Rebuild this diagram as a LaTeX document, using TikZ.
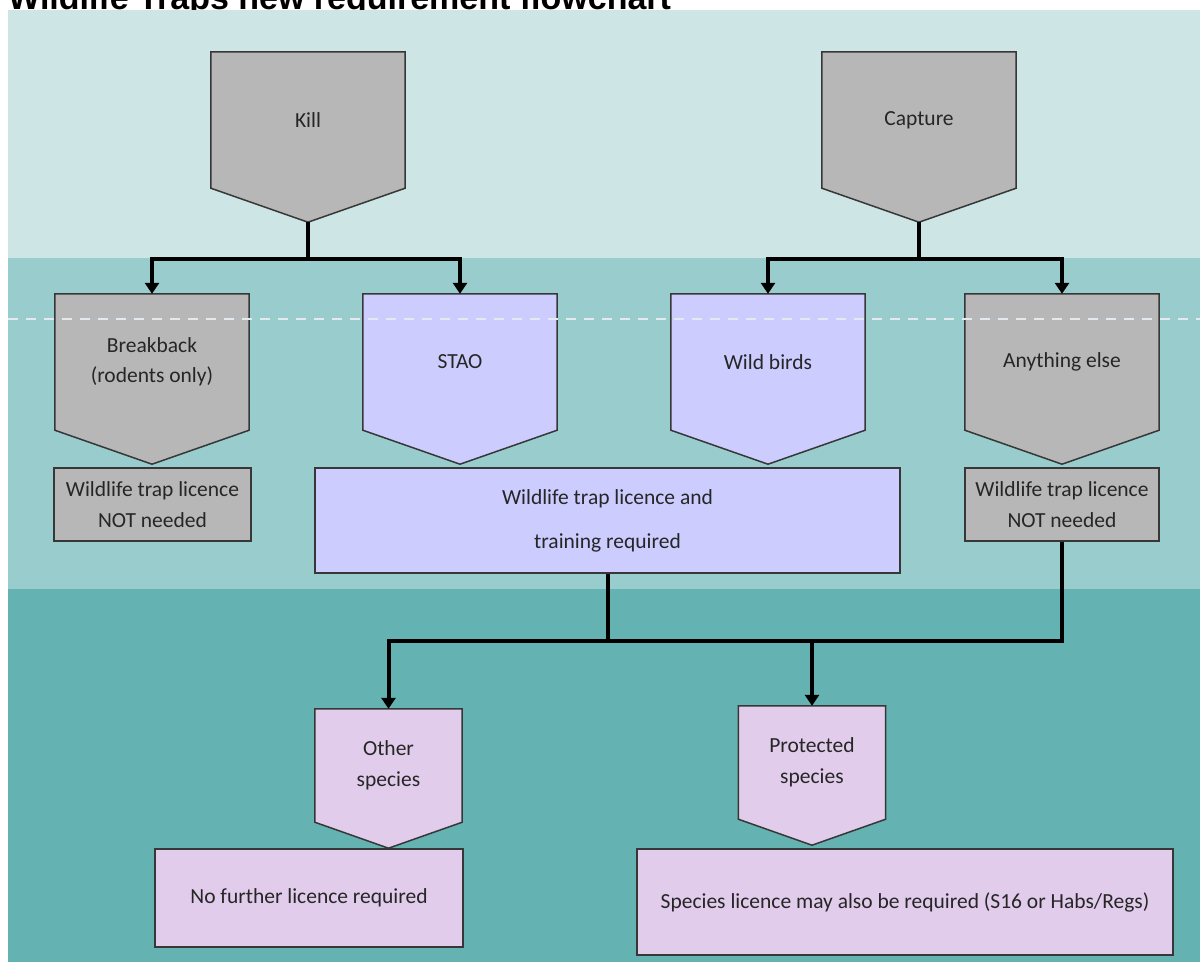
\documentclass[tikz,border=0pt]{standalone}
\usepackage{fontspec}
\setmainfont{Carlito}
\newfontfamily\titlefont{Liberation Sans}
\usetikzlibrary{arrows.meta, backgrounds, calc}

\definecolor{bandtop}{RGB}{205,229,229}
\definecolor{bandmid}{RGB}{153,205,205}
\definecolor{bandlow}{RGB}{101,178,178}
\definecolor{greyfill}{RGB}{183,183,183}
\definecolor{bluefill}{RGB}{204,204,255}
\definecolor{pinkfill}{RGB}{225,204,235}
\definecolor{edgegrey}{RGB}{55,55,55}
\definecolor{guidewhite}{RGB}{226,234,240}

\tikzset{
    label text/.style={align=center, inner sep=0pt, text=black!85,
        font=\fontsize{21.5}{30.5}\selectfont},
    pent/.style={label text, minimum width=194pt, minimum height=136pt},
    small pent/.style={label text, minimum width=147pt, minimum height=113pt},
    outline/.style={draw=edgegrey, line width=1.5pt},
    box/.style={label text, outline},
    flow/.style={line width=4pt, black},
    flow arrow/.style={flow, -{Triangle[length=11pt, width=14pt]}},
    guide/.style={guidewhite, line width=1.5pt, dash pattern=on 10pt off 8pt}
}

\begin{document}
\begin{tikzpicture}[x=1pt, y=-1pt]
\useasboundingbox (0,0) rectangle (1200,962);

% title and the three bands
\begin{scope}[on background layer]
\node[anchor=base west, inner sep=0pt,
    font=\titlefont\bfseries\fontsize{34}{40}\selectfont] (title) at (8,9)
    {Wildlife Traps new requirement flowchart};
\fill[bandtop] (8,10) rectangle (1200,258);
\fill[bandmid] (8,258) rectangle (1200,589);
\fill[bandlow] (8,589) rectangle (1200,962);
\end{scope}

% trap type
\node[pent] (kill) at (308,120) {Kill};
\node[pent] (capture) at (919,120) {Capture};

% second row
\node[pent] (breakback) at (152,362) {Breakback\\(rodents only)};
\node[pent] (stao) at (460,362) {STAO};
\node[pent] (birds) at (768,362) {Wild birds};
\node[pent] (anyelse) at (1062,362) {Anything else};

% licence outcome
\node[box, fill=greyfill, minimum width=197pt, minimum height=73pt] (notneedA)
    at (152.5,504.5) {Wildlife trap licence\\NOT needed};
\node[box, fill=bluefill, minimum width=585pt, minimum height=105pt] (trainbox)
    at (607.5,520.5) {Wildlife trap licence and\\[13.5pt]training required};
\node[box, fill=greyfill, minimum width=194pt, minimum height=73pt] (notneedB)
    at (1062,504.5) {Wildlife trap licence\\NOT needed};

% species
\node[small pent] (other) at (388.5,765.5) {Other\\species};
\node[small pent] (protected) at (812,762.5) {Protected\\species};
\node[box, fill=pinkfill, minimum width=308pt, minimum height=98pt] (nofurther)
    at (309,898) {No further licence required};
\node[box, fill=pinkfill, minimum width=536pt, minimum height=106pt] (specieslic)
    at (905,902) {Species licence may also be required (S16 or Habs/Regs)};

% tips of the pointed shapes
\foreach \n/\d in {kill/34, capture/34, breakback/34, stao/34, birds/34,
        anyelse/34, other/26, protected/26}
    \coordinate (\n-tip) at ($(\n.south)+(0,\d)$);

% pointed shapes behind the labels
\begin{scope}[on background layer]
\foreach \n/\c in {kill/greyfill, capture/greyfill, breakback/greyfill,
        stao/bluefill, birds/bluefill, anyelse/greyfill,
        other/pinkfill, protected/pinkfill}
    \filldraw[outline, fill=\c] (\n.north west) -- (\n.north east)
        -- (\n.south east) -- (\n-tip) -- (\n.south west) -- cycle;
\end{scope}

% connectors
\draw[flow] (kill-tip) -- ++(0,37) coordinate (kill-split);
\draw[flow arrow] (kill-split) -| (breakback.north);
\draw[flow arrow] (kill-split) -| (stao.north);
\draw[flow] (capture-tip) -- ++(0,37) coordinate (capture-split);
\draw[flow arrow] (capture-split) -| (birds.north);
\draw[flow arrow] (capture-split) -| (anyelse.north);

\coordinate (merge) at ($(trainbox.south)+(0,67)$);
\draw[flow] (trainbox.south) -- (merge);
\draw[flow] (notneedB.south) |- (merge);
\draw[flow arrow] (merge) -| (other.north);
\draw[flow arrow] (merge -| protected.north) -- (protected.north);

\draw[guide] (8,319) -- (1200,319);
\end{tikzpicture}
\end{document}
